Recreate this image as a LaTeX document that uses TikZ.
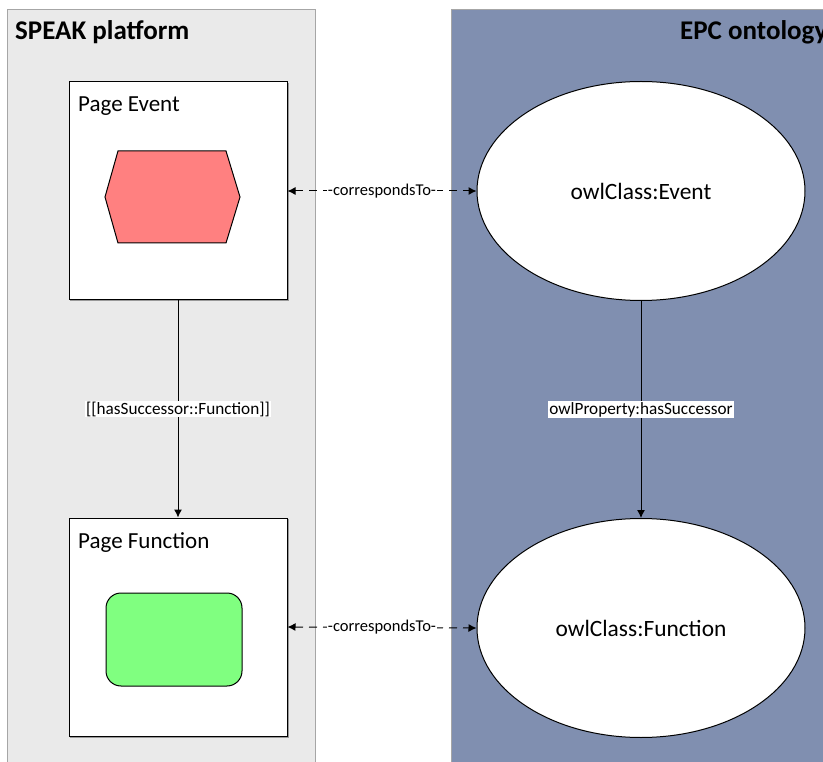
\documentclass[tikz,border=0pt]{standalone}
\usepackage{fontspec}
\setmainfont{Carlito}
\usetikzlibrary{arrows.meta,shapes.geometric}
\definecolor{panelgray}{RGB}{234,234,234}
\definecolor{panelblue}{RGB}{128,143,176}
\definecolor{hexred}{RGB}{255,128,128}
\definecolor{boxgreen}{RGB}{128,255,128}
\tikzset{
  panel/.style={draw=black!35, line width=0.8pt},
  pagebox/.style={draw=black, fill=white, line width=1pt, minimum width=218pt, minimum height=218pt, inner sep=0pt},
  owlnode/.style={draw=black, fill=white, ellipse, line width=1pt, minimum width=328pt, minimum height=219pt, inner sep=0pt, font=\fontsize{23.4}{28}\selectfont},
  title/.style={font=\fontsize{27}{32}\selectfont\bfseries, inner sep=0pt},
  boxtitle/.style={font=\fontsize{23}{28}\selectfont, inner sep=0pt},
  lbl/.style={fill=white, inner sep=1pt, font=\fontsize{17.2}{20}\selectfont},
  clbl/.style={fill=white, inner sep=0.5pt, font=\fontsize{16.5}{20}\selectfont},
  succ/.style={-{Latex[length=8pt,width=8pt]}, line width=1pt},
  corr/.style={{Latex[length=8pt,width=8pt]}-{Latex[length=8pt,width=8pt]}, line width=1pt, dash pattern=on 8pt off 6pt},
}
\begin{document}
\begin{tikzpicture}[x=1pt,y=-1pt]
\useasboundingbox (0,0) rectangle (823,762);
% panels
\draw[panel, fill=panelgray] (7,9) rectangle (315,775);
\draw[panel, fill=panelblue] (451,9) rectangle (840,775);
\node[title, anchor=base west] (speak) at (15,40) {SPEAK platform};
\node[title, anchor=base west] (epc) at (680,40) {EPC ontology};
% shadows
\draw[black!40, line width=1pt] (70,301) -- (288,301) -- (288,83);
\draw[black!40, line width=1pt] (70,737) -- (288,737) -- (288,519);
% page boxes
\node[pagebox] (pe) at (178,191) {};
\node[pagebox] (pf) at (178,627) {};
\node[boxtitle, anchor=base west] (pet) at (78,112) {Page Event};
\node[boxtitle, anchor=base west] (pft) at (78,548) {Page Function};
% hexagon
\draw[fill=hexred, line width=1pt] (118,151) -- (226,151) -- (240,197) -- (226,243) -- (118,243) -- (105,197) -- cycle;
% green rounded rectangle
\draw[fill=boxgreen, line width=1pt, rounded corners=15pt] (106,593) rectangle (242,686);
% ellipses
\node[owlnode] (ee) at (641,191) {owlClass:Event};
\node[owlnode] (ef) at (641,628) {owlClass:Function};
% connectors
\draw[succ] (pe.south) -- (pf.north) node[lbl, midway] {[[hasSuccessor::Function]]};
\draw[succ] (ee.south) -- (ef.north) node[lbl, midway] {owlProperty:hasSuccessor};
\draw[corr] (pe.east) -- (ee.west) node[clbl, midway] {-correspondsTo-};
\draw[corr] (pf.east) -- (ef.west) node[clbl, midway] {-correspondsTo-};
\end{tikzpicture}
\end{document}
